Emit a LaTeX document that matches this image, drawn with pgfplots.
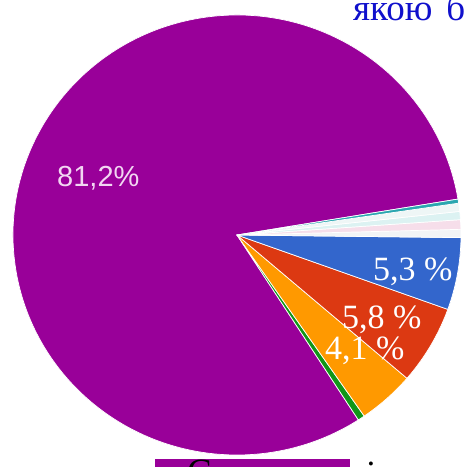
\documentclass[border=0pt]{standalone}
\usepackage{pgfplots}
\usepackage{pgfplotstable}
\pgfplotsset{compat=1.18}
\usepackage{fontspec}
\setmainfont{Liberation Serif}
\newfontfamily\arialf{Liberation Sans}
\definecolor{cpurple}{HTML}{990099}
\definecolor{cgreen}{HTML}{109618}
\definecolor{corange}{HTML}{FF9900}
\definecolor{cred}{HTML}{DC3912}
\definecolor{cblue}{HTML}{3366CC}
\definecolor{clightA}{HTML}{F2F4F6}
\definecolor{clightB}{HTML}{F6DEEA}
\definecolor{clightC}{HTML}{DCF2F2}
\definecolor{clightD}{HTML}{EEF6F6}
\definecolor{cteal}{HTML}{2AA6B0}
\definecolor{lbl}{HTML}{F2D6F2}
\definecolor{titleblue}{HTML}{1010CC}
\pgfplotstableread{
pct col
81.5 cpurple
0.5 cgreen
4.1 corange
5.8 cred
5.3 cblue
0.6 clightA
0.7 clightB
0.6 clightC
0.6 clightD
0.3 cteal
}\piedata
\begin{document}
\begin{tikzpicture}
\begin{axis}[scale only axis, width=465pt, height=467pt,
  xmin=0, xmax=465, ymin=0, ymax=467, y dir=reverse,
  enlargelimits=false, hide axis, clip=true]
\pgfplotstablegetrowsof{\piedata}
\pgfmathtruncatemacro\nrows{\pgfplotsretval-1}
\xdef\angstart{9.4}
\pgfplotsforeachungrouped \i in {0,...,\nrows}{%
  \pgfplotstablegetelem{\i}{pct}\of\piedata \let\p\pgfplotsretval
  \pgfplotstablegetelem{\i}{col}\of\piedata \let\c\pgfplotsretval
  \pgfmathsetmacro\angend{\angstart+3.6*\p}%
  \edef\temp{\noexpand\filldraw[fill=\c, draw=white, line width=0.7pt, line join=round]
    (axis cs:237,235) -- ++(\angstart:224pt and 220pt)
    arc[start angle=\angstart, end angle=\angend, x radius=224pt, y radius=220pt] -- cycle;}%
  \temp
  \xdef\angstart{\angend}%
}
\node[anchor=base west, text=lbl, font=\arialf\fontsize{29}{29}\selectfont, inner sep=0pt] at (axis cs:57,186) {81,2\%};
\node[anchor=base west, text=white, font=\fontsize{34}{34}\selectfont, inner sep=0pt] at (axis cs:373,280) {5,3 \%};
\node[anchor=base west, text=white, font=\fontsize{34}{34}\selectfont, inner sep=0pt] at (axis cs:342,328) {5,8 \%};
\node[anchor=base west, text=white, font=\fontsize{34}{34}\selectfont, inner sep=0pt] at (axis cs:325,359) {4,1 \%};
\node[anchor=base west, text=titleblue, font=\fontsize{37}{37}\selectfont, inner sep=0pt] at (axis cs:353,20) {якою\hspace{14pt}б};
\fill[cpurple] (axis cs:155,459) rectangle (axis cs:350,470);
\node[anchor=base west, text=black, font=\fontsize{37}{37}\selectfont, inner sep=0pt] at (axis cs:187,484) {С};
\node[anchor=base west, text=black, font=\fontsize{37}{37}\selectfont, inner sep=0pt] at (axis cs:366,486) {і};
\end{axis}
\end{tikzpicture}
\end{document}
